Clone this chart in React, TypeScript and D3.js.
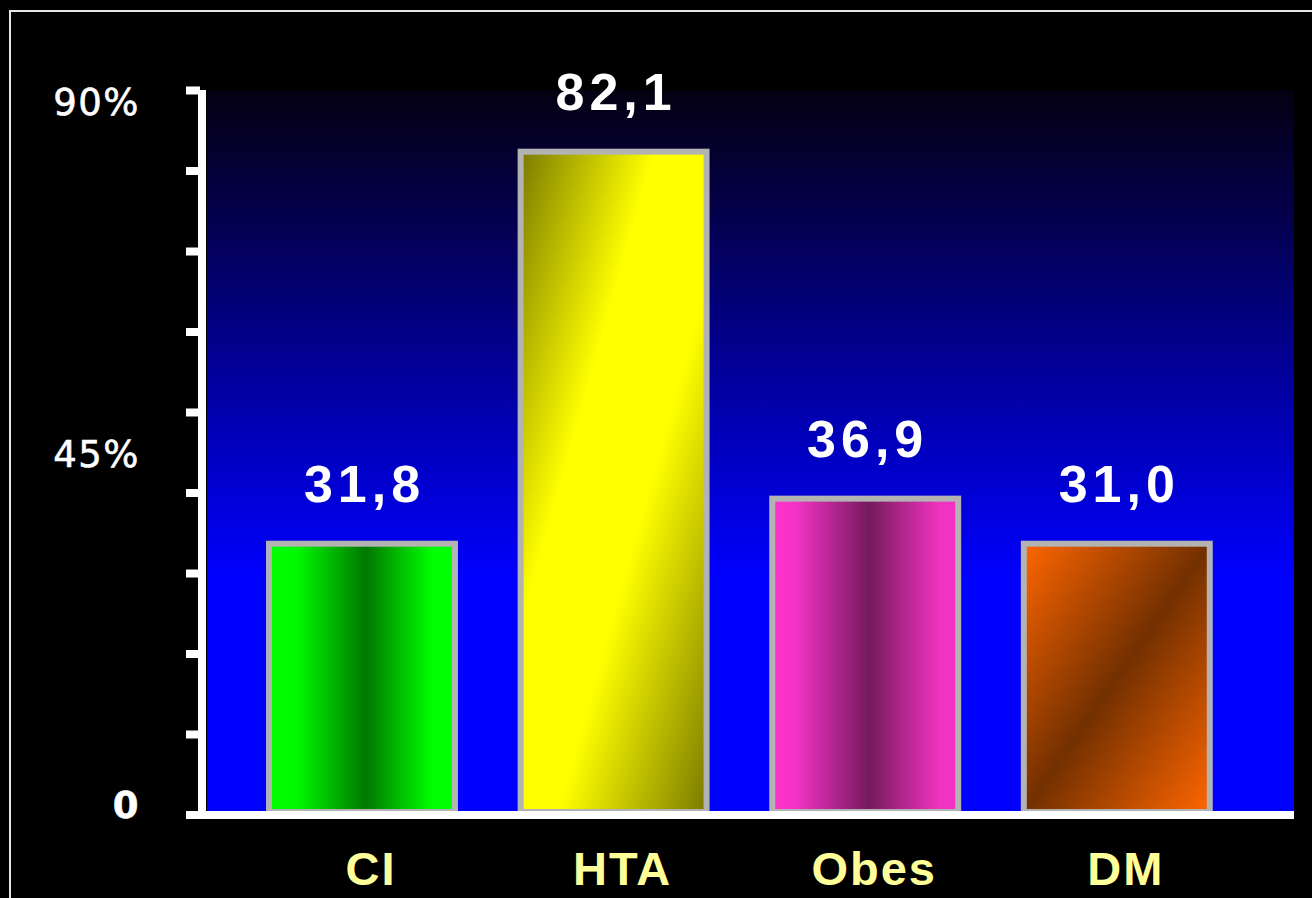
import React from "react";
import * as d3 from "d3";

// ---- data ----
const categories: string[] = ["CI", "HTA", "Obes", "DM"];
// printed values above the bars
const values: number[] = [31.8, 82.1, 36.9, 31.0];
// bar heights as drawn against the % axis
const barHeights: number[] = [33.7, 82.4, 39.3, 33.7];
const tickValues: number[] = [0, 10, 20, 30, 40, 50, 60, 70, 80, 90];
const labeledTicks: number[] = [0, 45, 90];
const labeledTickText: string[] = ["0", "45%", "90%"];

// gradient specs per bar (colour stops)
const barGradients: { id: string; diagonal: boolean; stops: [number, string][] }[] = [
  { id: "gCI", diagonal: false, stops: [[0, "#00ff00"], [0.15, "#00f800"], [0.52, "#007800"], [0.88, "#00ff00"], [1, "#00ff00"]] },
  { id: "gHTA", diagonal: true, stops: [[0, "#7a7a00"], [0.36, "#ffff00"], [0.6, "#ffff00"], [1, "#7a7a00"]] },
  { id: "gObes", diagonal: false, stops: [[0, "#ff33cc"], [0.12, "#f533c8"], [0.52, "#751a5c"], [0.9, "#f033c0"], [1, "#f233c4"]] },
  { id: "gDM", diagonal: true, stops: [[0, "#ff6600"], [0.5, "#733000"], [1, "#ff6600"]] },
];

const W = 1312;
const H = 898;
const plotLeft = 207;
const plotRight = 1294;
const plotTop = 90;

const fmt = d3.formatLocale({ decimal: ",", thousands: ".", grouping: [3], currency: ["", "€"] }).format(".1f");

export default function App() {
  const y = d3.scaleLinear().domain([0, 90]).range([815, 90.5]);
  const yLabel = d3.scaleLinear().domain([0, 90]).range([805, 102]);
  const x = d3
    .scaleBand<string>()
    .domain(categories)
    .range([236.2, 1242.6])
    .paddingInner(0.261)
    .paddingOuter(0.1305);
  const bw = x.bandwidth();
  const y0 = y(0);

  return (
    <svg
      width={W}
      height={H}
      style={{ position: "absolute", left: 0, top: 0, display: "block" }}
    >
      <defs>
        <linearGradient id="bgGrad" x1="0" y1="0" x2="0" y2="1">
          <stop offset="0" stopColor="#050010" />
          <stop offset="0.68" stopColor="#0000ff" />
          <stop offset="1" stopColor="#0000ff" />
        </linearGradient>
        {barGradients.map((g) => (
          <linearGradient
            key={g.id}
            id={g.id}
            x1="0"
            y1="0"
            x2="1"
            y2={g.diagonal ? "1" : "0"}
          >
            {g.stops.map(([o, c], i) => (
              <stop key={i} offset={o} stopColor={c} />
            ))}
          </linearGradient>
        ))}
      </defs>
      <rect x={0} y={0} width={W} height={H} fill="#000" />
      {/* outer frame */}
      <rect x={10} y={11} width={W + 20} height={H + 20} fill="none" stroke="#e6e6e6" strokeWidth={2} />
      {/* plot background */}
      <rect x={plotLeft} y={plotTop} width={plotRight - plotLeft} height={811 - plotTop} fill="url(#bgGrad)" />

      {/* bars */}
      {categories.map((c, i) => (
        <rect
          key={c}
          x={x(c)}
          y={y(barHeights[i])}
          width={bw}
          height={y0 - 3 - y(barHeights[i])}
          fill={`url(#${barGradients[i].id})`}
          stroke="#b3b3b3"
          strokeWidth={6}
        />
      ))}

      {/* y axis line */}
      <rect x={198} y={90} width={8} height={729} fill="#fff" />
      {/* ticks */}
      {tickValues.map((t) => (
        <rect key={t} x={186} y={y(t) - 4} width={14} height={8} fill="#fff" />
      ))}
      {/* baseline */}
      <rect x={186} y={811} width={plotRight - 186} height={8} fill="#fff" />

      {/* tick labels */}
      {labeledTicks.map((t, i) => (
        <text
          key={t}
          x={140}
          y={yLabel(t)}
          dy="0.36em"
          textAnchor="end"
          fill="#fff"
          stroke="#fff"
          strokeWidth={0.6}
          fontFamily="'DejaVu Sans', Verdana, sans-serif"
          fontSize={37}
          fontWeight={t === 0 ? "bold" : "normal"}
          letterSpacing={1.5}
        >
          {labeledTickText[i]}
        </text>
      ))}

      {/* value labels */}
      {categories.map((c, i) => (
        <text
          key={c}
          x={(x(c) as number) + bw / 2 + 2.5}
          y={y(barHeights[i]) - 42}
          textAnchor="middle"
          fill="#fff"
          fontFamily="'Liberation Sans', Arial, sans-serif"
          fontWeight="bold"
          fontSize={52}
          letterSpacing={5}
        >
          {fmt(values[i])}
        </text>
      ))}

      {/* category labels */}
      {categories.map((c) => (
        <text
          key={c}
          x={(x(c) as number) + bw / 2 + 9}
          y={885}
          textAnchor="middle"
          fill="#ffff99"
          fontFamily="'Liberation Sans', Arial, sans-serif"
          fontWeight="bold"
          fontSize={47}
          letterSpacing={2}
        >
          {c}
        </text>
      ))}
    </svg>
  );
}
